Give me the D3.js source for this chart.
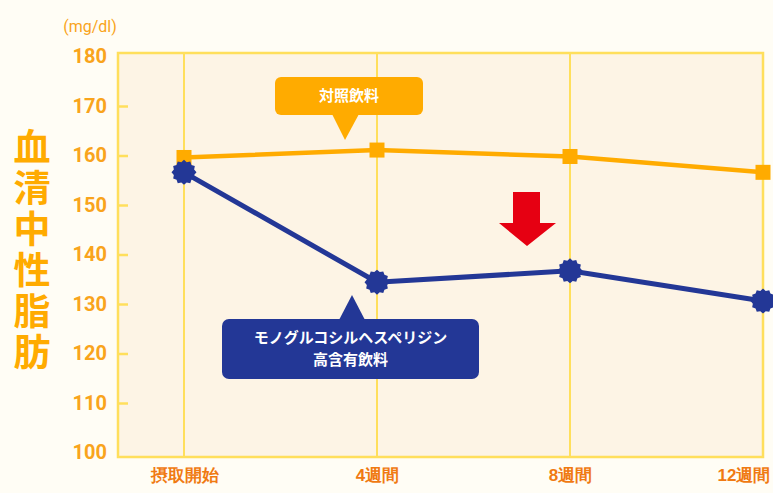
<!DOCTYPE html>
<html>
<head>
<meta charset="utf-8">
<script src="https://cdn.jsdelivr.net/npm/d3@7"></script>
<style>
  html, body { margin: 0; padding: 0; background: #fffdf5; }
  svg { display: block; font-family: "Noto Sans CJK JP", "Noto Sans", sans-serif; }
</style>
</head>
<body>
<svg id="chart" width="773" height="493"></svg>
<script>
// Time points of the intake study
const categories = ["摂取開始", "4週間", "8週間", "12週間"];
// Serum triglyceride (mg/dl)
const controlValues = [159.6, 161.1, 159.8, 156.6];
const testValues = [156.6, 134.4, 136.7, 130.6];
const yTicks = [100, 110, 120, 130, 140, 150, 160, 170, 180];
const yTitle = "血清中性脂肪";
const unitLabel = "(mg/dl)";
const controlLabel = ["対照飲料"];
const testLabel = ["モノグルコシルヘスペリジン", "高含有飲料"];

const svg = d3.select("#chart");
const orange = "#ffab00";
const labelOrange = "#f9a41c";
const axisOrange = "#f07a12";
const navy = "#233796";
const gridYellow = "#ffdf5c";

const x = d3.scalePoint().domain(categories).range([184, 763]);
const y = d3.scaleLinear().domain([100, 180]).range([452.5, 56.5]);

const plotLeft = 118, plotRight = 763;
const plotTop = y(180) - 3.5, plotBottom = y(100) + 4.5;

// Plot panel
svg.append("rect")
  .attr("x", plotLeft).attr("y", plotTop)
  .attr("width", plotRight - plotLeft).attr("height", plotBottom - plotTop)
  .attr("fill", "#fdf4e5");

// Vertical grid lines at each time point
svg.append("g").selectAll("line").data(categories).join("line")
  .attr("x1", d => x(d)).attr("x2", d => x(d))
  .attr("y1", plotTop).attr("y2", plotBottom)
  .attr("stroke", gridYellow).attr("stroke-width", 2);

// Frame
svg.append("rect")
  .attr("x", plotLeft).attr("y", plotTop)
  .attr("width", plotRight - plotLeft).attr("height", plotBottom - plotTop)
  .attr("fill", "none").attr("stroke", gridYellow).attr("stroke-width", 2.5);

// Y axis: inner ticks and labels
const yAxis = d3.axisLeft(y).tickValues(yTicks).tickSize(0).tickPadding(11);
const gy = svg.append("g").attr("transform", `translate(${plotLeft},0)`).call(yAxis);
gy.select(".domain").remove();
gy.selectAll("text")
  .attr("fill", labelOrange)
  .attr("font-size", 20).attr("font-weight", "bold")
  .attr("font-family", "Roboto, 'Noto Sans', sans-serif");
gy.selectAll(".tick")
  .filter(d => d !== 100 && d !== 180)
  .append("line")
  .attr("x1", 0).attr("x2", 10)
  .attr("stroke", gridYellow).attr("stroke-width", 2.5);

// X axis labels (the last one is kept inside the page)
const xAxis = d3.axisBottom(x).tickSize(0).tickPadding(12);
const gx = svg.append("g").attr("transform", `translate(0,${plotBottom})`).call(xAxis);
gx.select(".domain").remove();
gx.selectAll("text")
  .attr("fill", axisOrange)
  .attr("font-size", 17).attr("font-weight", "bold");
gx.selectAll("text")
  .filter(d => d === categories[categories.length - 1])
  .attr("text-anchor", "end").attr("dx", 7);

// Unit label
svg.append("text")
  .attr("x", 90).attr("y", 32)
  .attr("text-anchor", "middle")
  .attr("fill", labelOrange).attr("font-size", 16)
  .attr("font-family", "Roboto, 'Noto Sans', sans-serif")
  .text(unitLabel);

// Vertical axis title, set in vertical writing mode
svg.append("text")
  .attr("x", 32).attr("y", 128)
  .attr("fill", orange).attr("font-size", 37).attr("font-weight", "bold")
  .style("writing-mode", "vertical-rl")
  .style("letter-spacing", "4px")
  .text(yTitle);

// Lines
const line = d3.line().x((d, i) => x(categories[i])).y(d => y(d));
svg.append("path").datum(controlValues)
  .attr("d", line).attr("fill", "none")
  .attr("stroke", orange).attr("stroke-width", 4.5);
svg.append("path").datum(testValues)
  .attr("d", line).attr("fill", "none")
  .attr("stroke", navy).attr("stroke-width", 5);

// Control markers: squares
const sq = 15;
svg.append("g").selectAll("rect").data(controlValues).join("rect")
  .attr("x", (d, i) => x(categories[i]) - sq / 2)
  .attr("y", d => y(d) - sq / 2)
  .attr("width", sq).attr("height", sq)
  .attr("fill", orange);

// Test markers: notched round badges
const teeth = 12;
const gearPts = d3.range(teeth * 2).map(k => [k * Math.PI / teeth, k % 2 ? 10.5 : 12.5]);
const gearPath = d3.lineRadial().curve(d3.curveLinearClosed)(gearPts);
svg.append("g").selectAll("path").data(testValues).join("path")
  .attr("transform", (d, i) => `translate(${x(categories[i])},${y(d)})`)
  .attr("d", gearPath)
  .attr("fill", navy);

// Callout for control drink
const c1 = { x: 275, y: 77, w: 148, h: 38, tipX: 345, tipY: 140 };
svg.append("rect")
  .attr("x", c1.x).attr("y", c1.y).attr("width", c1.w).attr("height", c1.h)
  .attr("rx", 6).attr("fill", orange);
svg.append("path")
  .attr("d", `M${c1.tipX - 13},${c1.y + c1.h - 1} L${c1.tipX + 14},${c1.y + c1.h - 1} L${c1.tipX},${c1.tipY} Z`)
  .attr("fill", orange);
svg.append("text")
  .attr("x", c1.x + c1.w / 2).attr("y", c1.y + c1.h / 2)
  .attr("dy", "0.36em").attr("text-anchor", "middle")
  .attr("fill", "#fff").attr("font-size", 15).attr("font-weight", "bold")
  .text(controlLabel[0]);

// Callout for test drink
const c2 = { x: 222, y: 319, w: 257, h: 60, tipX: 352, tipY: 295 };
svg.append("rect")
  .attr("x", c2.x).attr("y", c2.y).attr("width", c2.w).attr("height", c2.h)
  .attr("rx", 7).attr("fill", navy);
svg.append("path")
  .attr("d", `M${c2.tipX - 13},${c2.y + 1} L${c2.tipX + 13},${c2.y + 1} L${c2.tipX},${c2.tipY} Z`)
  .attr("fill", navy);
svg.append("g").selectAll("text").data(testLabel).join("text")
  .attr("x", c2.x + c2.w / 2).attr("y", (d, i) => 338 + i * 22)
  .attr("dy", "0.36em").attr("text-anchor", "middle")
  .attr("fill", "#fff").attr("font-size", 15).attr("font-weight", "bold")
  .text(d => d);

// Red downward arrow
svg.append("path")
  .attr("d", "M513,192 L540,192 L540,223 L556,223 L527,246 L499,223 L513,223 Z")
  .attr("fill", "#e60012");
</script>
</body>
</html>
